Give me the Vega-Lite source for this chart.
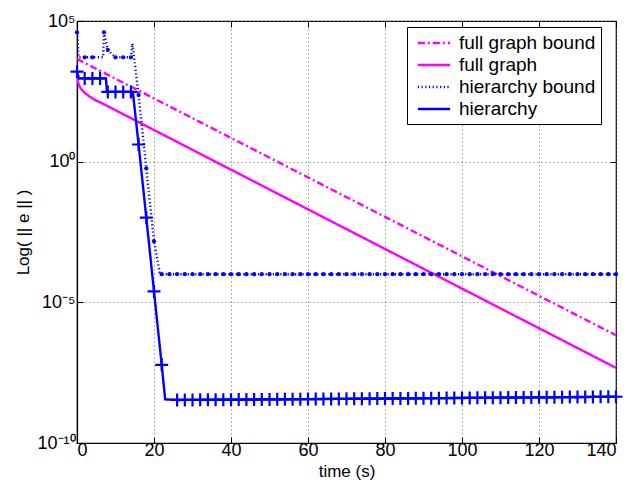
{
  "$schema": "https://vega.github.io/schema/vega-lite/v6.json",
  "width": 539,
  "height": 422,
  "autosize": {"type": "none"},
  "padding": {"left": 77, "top": 21, "right": 16, "bottom": 45},
  "background": "white",
  "config": {
    "view": {"stroke": "black", "strokeWidth": 1.2},
    "font": "Liberation Sans",
    "axis": {
      "domainColor": "black",
      "domainWidth": 1.2,
      "tickColor": "black",
      "tickSize": -6,
      "labelColor": "black",
      "labelFont": "Liberation Sans",
      "labelFontSize": 18,
      "titleFont": "Liberation Sans",
      "titleFontSize": 17,
      "titleFontWeight": "normal",
      "titleColor": "black",
      "gridColor": "#666",
      "gridDash": [1, 3],
      "gridWidth": 1
    },
    "legend": {
      "labelFont": "Liberation Sans",
      "labelFontSize": 19,
      "labelColor": "black"
    }
  },
  "data": {
    "values": [
      {"s": "full graph bound", "t": 0, "v": 4467},
      {"s": "full graph bound", "t": 140, "v": 6.76e-7},
      {"s": "full graph", "t": 0, "v": 933},
      {"s": "full graph", "t": 0.3, "v": 631},
      {"s": "full graph", "t": 0.7, "v": 457},
      {"s": "full graph", "t": 1.2, "v": 363},
      {"s": "full graph", "t": 2, "v": 282},
      {"s": "full graph", "t": 3, "v": 219},
      {"s": "full graph", "t": 4, "v": 178},
      {"s": "full graph", "t": 5, "v": 148},
      {"s": "full graph", "t": 6, "v": 129},
      {"s": "full graph", "t": 140, "v": 4.68e-8},
      {"s": "hierarchy bound", "t": 0, "v": 39800},
      {"s": "hierarchy bound", "t": 0.4, "v": 5130},
      {"s": "hierarchy bound", "t": 2, "v": 5130},
      {"s": "hierarchy bound", "t": 4, "v": 5130},
      {"s": "hierarchy bound", "t": 6.8, "v": 5130},
      {"s": "hierarchy bound", "t": 7, "v": 39800},
      {"s": "hierarchy bound", "t": 8, "v": 9330},
      {"s": "hierarchy bound", "t": 10, "v": 5130},
      {"s": "hierarchy bound", "t": 12, "v": 5130},
      {"s": "hierarchy bound", "t": 14, "v": 5130},
      {"s": "hierarchy bound", "t": 14.4, "v": 15850},
      {"s": "hierarchy bound", "t": 16, "v": 234},
      {"s": "hierarchy bound", "t": 18, "v": 0.575},
      {"s": "hierarchy bound", "t": 20, "v": 0.00148},
      {"s": "hierarchy bound", "t": 21.5, "v": 0.000112},
      {"s": "hierarchy bound", "t": 22, "v": 0.0001},
      {"s": "hierarchy bound", "t": 24, "v": 0.0001},
      {"s": "hierarchy bound", "t": 26, "v": 0.0001},
      {"s": "hierarchy bound", "t": 28, "v": 0.0001},
      {"s": "hierarchy bound", "t": 30, "v": 0.0001},
      {"s": "hierarchy bound", "t": 32, "v": 0.0001},
      {"s": "hierarchy bound", "t": 34, "v": 0.0001},
      {"s": "hierarchy bound", "t": 36, "v": 0.0001},
      {"s": "hierarchy bound", "t": 38, "v": 0.0001},
      {"s": "hierarchy bound", "t": 40, "v": 0.0001},
      {"s": "hierarchy bound", "t": 42, "v": 0.0001},
      {"s": "hierarchy bound", "t": 44, "v": 0.0001},
      {"s": "hierarchy bound", "t": 46, "v": 0.0001},
      {"s": "hierarchy bound", "t": 48, "v": 0.0001},
      {"s": "hierarchy bound", "t": 50, "v": 0.0001},
      {"s": "hierarchy bound", "t": 52, "v": 0.0001},
      {"s": "hierarchy bound", "t": 54, "v": 0.0001},
      {"s": "hierarchy bound", "t": 56, "v": 0.0001},
      {"s": "hierarchy bound", "t": 58, "v": 0.0001},
      {"s": "hierarchy bound", "t": 60, "v": 0.0001},
      {"s": "hierarchy bound", "t": 62, "v": 0.0001},
      {"s": "hierarchy bound", "t": 64, "v": 0.0001},
      {"s": "hierarchy bound", "t": 66, "v": 0.0001},
      {"s": "hierarchy bound", "t": 68, "v": 0.0001},
      {"s": "hierarchy bound", "t": 70, "v": 0.0001},
      {"s": "hierarchy bound", "t": 72, "v": 0.0001},
      {"s": "hierarchy bound", "t": 74, "v": 0.0001},
      {"s": "hierarchy bound", "t": 76, "v": 0.0001},
      {"s": "hierarchy bound", "t": 78, "v": 0.0001},
      {"s": "hierarchy bound", "t": 80, "v": 0.0001},
      {"s": "hierarchy bound", "t": 82, "v": 0.0001},
      {"s": "hierarchy bound", "t": 84, "v": 0.0001},
      {"s": "hierarchy bound", "t": 86, "v": 0.0001},
      {"s": "hierarchy bound", "t": 88, "v": 0.0001},
      {"s": "hierarchy bound", "t": 90, "v": 0.0001},
      {"s": "hierarchy bound", "t": 92, "v": 0.0001},
      {"s": "hierarchy bound", "t": 94, "v": 0.0001},
      {"s": "hierarchy bound", "t": 96, "v": 0.0001},
      {"s": "hierarchy bound", "t": 98, "v": 0.0001},
      {"s": "hierarchy bound", "t": 100, "v": 0.0001},
      {"s": "hierarchy bound", "t": 102, "v": 0.0001},
      {"s": "hierarchy bound", "t": 104, "v": 0.0001},
      {"s": "hierarchy bound", "t": 106, "v": 0.0001},
      {"s": "hierarchy bound", "t": 108, "v": 0.0001},
      {"s": "hierarchy bound", "t": 110, "v": 0.0001},
      {"s": "hierarchy bound", "t": 112, "v": 0.0001},
      {"s": "hierarchy bound", "t": 114, "v": 0.0001},
      {"s": "hierarchy bound", "t": 116, "v": 0.0001},
      {"s": "hierarchy bound", "t": 118, "v": 0.0001},
      {"s": "hierarchy bound", "t": 120, "v": 0.0001},
      {"s": "hierarchy bound", "t": 122, "v": 0.0001},
      {"s": "hierarchy bound", "t": 124, "v": 0.0001},
      {"s": "hierarchy bound", "t": 126, "v": 0.0001},
      {"s": "hierarchy bound", "t": 128, "v": 0.0001},
      {"s": "hierarchy bound", "t": 130, "v": 0.0001},
      {"s": "hierarchy bound", "t": 132, "v": 0.0001},
      {"s": "hierarchy bound", "t": 134, "v": 0.0001},
      {"s": "hierarchy bound", "t": 136, "v": 0.0001},
      {"s": "hierarchy bound", "t": 138, "v": 0.0001},
      {"s": "hierarchy bound", "t": 140, "v": 0.0001},
      {"s": "hierarchy", "t": 0, "v": 1585},
      {"s": "hierarchy", "t": 0.5, "v": 912},
      {"s": "hierarchy", "t": 2, "v": 912},
      {"s": "hierarchy", "t": 4, "v": 912},
      {"s": "hierarchy", "t": 6, "v": 912},
      {"s": "hierarchy", "t": 7.5, "v": 912},
      {"s": "hierarchy", "t": 7.8, "v": 302},
      {"s": "hierarchy", "t": 8, "v": 302},
      {"s": "hierarchy", "t": 10, "v": 302},
      {"s": "hierarchy", "t": 12, "v": 302},
      {"s": "hierarchy", "t": 14, "v": 302},
      {"s": "hierarchy", "t": 14.5, "v": 302},
      {"s": "hierarchy", "t": 16, "v": 4.07},
      {"s": "hierarchy", "t": 18, "v": 0.0102},
      {"s": "hierarchy", "t": 20, "v": 2.45e-5},
      {"s": "hierarchy", "t": 22, "v": 6.03e-8},
      {"s": "hierarchy", "t": 22.9, "v": 3.55e-9},
      {"s": "hierarchy", "t": 26, "v": 3.39e-9},
      {"s": "hierarchy", "t": 28, "v": 3.40e-9},
      {"s": "hierarchy", "t": 30, "v": 3.41e-9},
      {"s": "hierarchy", "t": 32, "v": 3.42e-9},
      {"s": "hierarchy", "t": 34, "v": 3.44e-9},
      {"s": "hierarchy", "t": 36, "v": 3.45e-9},
      {"s": "hierarchy", "t": 38, "v": 3.46e-9},
      {"s": "hierarchy", "t": 40, "v": 3.48e-9},
      {"s": "hierarchy", "t": 42, "v": 3.49e-9},
      {"s": "hierarchy", "t": 44, "v": 3.51e-9},
      {"s": "hierarchy", "t": 46, "v": 3.52e-9},
      {"s": "hierarchy", "t": 48, "v": 3.54e-9},
      {"s": "hierarchy", "t": 50, "v": 3.55e-9},
      {"s": "hierarchy", "t": 52, "v": 3.57e-9},
      {"s": "hierarchy", "t": 54, "v": 3.58e-9},
      {"s": "hierarchy", "t": 56, "v": 3.60e-9},
      {"s": "hierarchy", "t": 58, "v": 3.61e-9},
      {"s": "hierarchy", "t": 60, "v": 3.63e-9},
      {"s": "hierarchy", "t": 62, "v": 3.65e-9},
      {"s": "hierarchy", "t": 64, "v": 3.66e-9},
      {"s": "hierarchy", "t": 66, "v": 3.68e-9},
      {"s": "hierarchy", "t": 68, "v": 3.70e-9},
      {"s": "hierarchy", "t": 70, "v": 3.71e-9},
      {"s": "hierarchy", "t": 72, "v": 3.73e-9},
      {"s": "hierarchy", "t": 74, "v": 3.75e-9},
      {"s": "hierarchy", "t": 76, "v": 3.77e-9},
      {"s": "hierarchy", "t": 78, "v": 3.78e-9},
      {"s": "hierarchy", "t": 80, "v": 3.80e-9},
      {"s": "hierarchy", "t": 82, "v": 3.82e-9},
      {"s": "hierarchy", "t": 84, "v": 3.84e-9},
      {"s": "hierarchy", "t": 86, "v": 3.85e-9},
      {"s": "hierarchy", "t": 88, "v": 3.87e-9},
      {"s": "hierarchy", "t": 90, "v": 3.89e-9},
      {"s": "hierarchy", "t": 92, "v": 3.91e-9},
      {"s": "hierarchy", "t": 94, "v": 3.93e-9},
      {"s": "hierarchy", "t": 96, "v": 3.95e-9},
      {"s": "hierarchy", "t": 98, "v": 3.97e-9},
      {"s": "hierarchy", "t": 100, "v": 3.99e-9},
      {"s": "hierarchy", "t": 102, "v": 4.01e-9},
      {"s": "hierarchy", "t": 104, "v": 4.03e-9},
      {"s": "hierarchy", "t": 106, "v": 4.05e-9},
      {"s": "hierarchy", "t": 108, "v": 4.07e-9},
      {"s": "hierarchy", "t": 110, "v": 4.09e-9},
      {"s": "hierarchy", "t": 112, "v": 4.11e-9},
      {"s": "hierarchy", "t": 114, "v": 4.13e-9},
      {"s": "hierarchy", "t": 116, "v": 4.15e-9},
      {"s": "hierarchy", "t": 118, "v": 4.17e-9},
      {"s": "hierarchy", "t": 120, "v": 4.19e-9},
      {"s": "hierarchy", "t": 122, "v": 4.21e-9},
      {"s": "hierarchy", "t": 124, "v": 4.24e-9},
      {"s": "hierarchy", "t": 126, "v": 4.26e-9},
      {"s": "hierarchy", "t": 128, "v": 4.28e-9},
      {"s": "hierarchy", "t": 130, "v": 4.30e-9},
      {"s": "hierarchy", "t": 132, "v": 4.32e-9},
      {"s": "hierarchy", "t": 134, "v": 4.35e-9},
      {"s": "hierarchy", "t": 136, "v": 4.37e-9},
      {"s": "hierarchy", "t": 138, "v": 4.39e-9},
      {"s": "hierarchy", "t": 140, "v": 4.41e-9}
    ]
  },
  "layer": [
    {
      "encoding": {
        "x": {
          "field": "t",
          "type": "quantitative",
          "scale": {"domain": [0, 140], "nice": false, "zero": false},
          "axis": {
            "title": "time (s)",
            "values": [0, 20, 40, 60, 80, 100, 120, 140],
            "grid": true,
            "labelPadding": 4,
            "titlePadding": 4
          }
        },
        "y": {
          "field": "v",
          "type": "quantitative",
          "scale": {"type": "log", "domain": [1e-10, 100000], "nice": false},
          "axis": {
            "title": "Log( || e || )",
            "values": [1e-10, 1e-5, 1, 100000],
            "labelExpr": "datum.value > 1e4 ? '10⁵' : datum.value > 0.1 ? '10⁰' : datum.value > 1e-6 ? '10⁻⁵' : '10⁻¹⁰'",
            "grid": true,
            "labelPadding": 8,
            "titlePadding": 4
          }
        }
      },
      "layer": [
        {
          "mark": {"type": "line", "clip": true},
          "encoding": {
            "color": {
              "field": "s",
              "type": "nominal",
              "scale": {
                "domain": ["full graph bound", "full graph", "hierarchy bound", "hierarchy"],
                "range": ["#ff00ff", "#ff00ff", "#0000ff", "#0000ff"]
              },
              "legend": {
                "title": null,
                "orient": "none",
                "legendX": 330,
                "legendY": 6,
                "direction": "vertical",
                "strokeColor": "black",
                "fillColor": "white",
                "padding": 5,
                "rowPadding": 1,
                "symbolType": "M-1.7,0L1.7,0",
                "symbolSize": 361,
                "symbolStrokeWidth": 2.2,
                "symbolOffset": 11,
                "labelOffset": 14,
                "labelLimit": 300,
                "labelExpr": "datum.label + '   '"
              }
            },
            "strokeDash": {
              "field": "s",
              "type": "nominal",
              "scale": {
                "domain": ["full graph bound", "full graph", "hierarchy bound", "hierarchy"],
                "range": [[7, 3, 2, 3], [1, 0], [1.2, 2.5], [1, 0]]
              },
              "legend": {
                "title": null,
                "orient": "none",
                "legendX": 330,
                "legendY": 6,
                "direction": "vertical",
                "strokeColor": "black",
                "fillColor": "white",
                "padding": 5,
                "rowPadding": 1,
                "symbolType": "M-1.7,0L1.7,0",
                "symbolSize": 361,
                "symbolStrokeWidth": 2.2,
                "symbolOffset": 11,
                "labelOffset": 14,
                "labelLimit": 300,
                "labelExpr": "datum.label + '   '"
              }
            },
            "strokeWidth": {
              "field": "s",
              "type": "nominal",
              "scale": {
                "domain": ["full graph bound", "full graph", "hierarchy bound", "hierarchy"],
                "range": [2.4, 2.4, 1.4, 2.6]
              },
              "legend": null
            }
          }
        },
        {
          "transform": [{"filter": "datum.s == 'hierarchy' && datum.t % 1 == 0"}],
          "mark": {
            "type": "point",
            "shape": "M-1,0L1,0M0,-1L0,1",
            "filled": false,
            "stroke": "#0000ff",
            "strokeWidth": 2.2,
            "size": 169,
            "opacity": 1
          }
        },
        {
          "transform": [{"filter": "datum.s == 'hierarchy bound' && datum.t % 1 == 0"}],
          "mark": {
            "type": "circle",
            "color": "#0000ff",
            "size": 18,
            "opacity": 1
          }
        }
      ]
    },
    {
      "mark": {"type": "point", "opacity": 0},
      "encoding": {
        "x": {
          "field": "t",
          "type": "quantitative",
          "scale": {"domain": [0, 140], "nice": false, "zero": false},
          "axis": {
            "orient": "top",
            "title": null,
            "labels": false,
            "grid": false,
            "domain": false,
            "values": [0, 20, 40, 60, 80, 100, 120, 140]
          }
        },
        "y": {
          "field": "v",
          "type": "quantitative",
          "scale": {"type": "log", "domain": [1e-10, 100000], "nice": false},
          "axis": {
            "orient": "right",
            "title": null,
            "labels": false,
            "grid": false,
            "domain": false,
            "values": [1e-10, 1e-5, 1, 100000]
          }
        }
      }
    }
  ],
  "resolve": {"scale": {"x": "independent", "y": "independent"}}
}
